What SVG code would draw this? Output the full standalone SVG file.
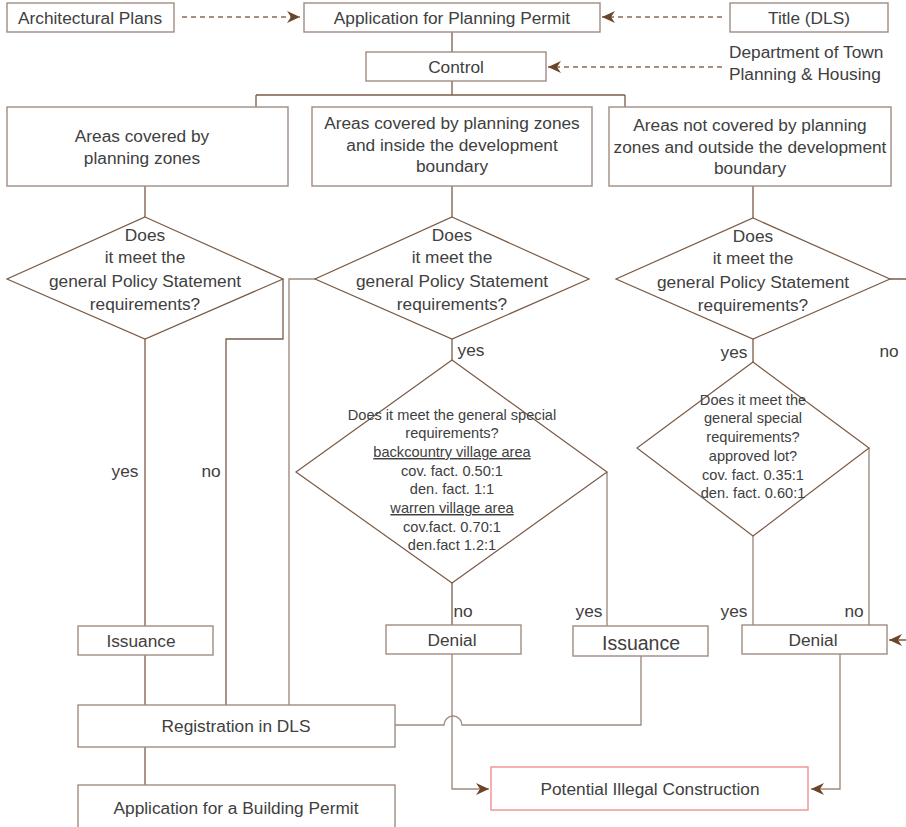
<svg xmlns="http://www.w3.org/2000/svg" width="906" height="827" viewBox="0 0 906 827">
<defs>
<marker id="ah" markerWidth="14" markerHeight="12" refX="13" refY="6" orient="auto" markerUnits="userSpaceOnUse">
<path d="M0,0 L13,6 L0,12 L4,6 z" fill="#6b4529"/>
</marker>
<style>
.box{fill:#fff;stroke:#a08c80;stroke-width:1.4}
.pink{fill:#fff;stroke:#f09090;stroke-width:1.4}
.dia{fill:#fff;stroke:#7b5a44;stroke-width:1.2}
.ln{fill:none;stroke:#7b5c48;stroke-width:1.3}
.lnl{fill:none;stroke:#a08c80;stroke-width:1.4}
.dash{fill:none;stroke:#8b6a55;stroke-width:1.4;stroke-dasharray:5,4}
text{font-family:"Liberation Sans",Arial,sans-serif;fill:#404040;text-anchor:middle}
.t{font-size:17.3px}
.s{font-size:14.6px}
.u{text-decoration:underline}
.l{text-anchor:start}
</style>
</defs>
<rect width="906" height="827" fill="#fff"/>
<g id="connectors">
<path class="dash" d="M182,17 H300" marker-end="url(#ah)"/>
<path class="dash" d="M722,17 H602" marker-end="url(#ah)"/>
<path class="dash" d="M722,67 H548" marker-end="url(#ah)"/>
<path class="ln" d="M452,32 V52"/>
<path class="ln" d="M452,81 V95 M256,95 H625 M256,95 V107 M625,95 V107"/>
<path class="ln" d="M145,186 V217 M452,186 V217 M753,186 V218"/>
<path class="ln" d="M145,339 V626"/>
<path class="ln" d="M283,279 V339 H226 V705"/>
<path class="lnl" d="M315,279 H289 V705"/>
<path class="ln" d="M145,655 V705"/>
<path class="ln" d="M145,747 V785"/>
<path class="ln" d="M452,339 V360"/>
<path class="ln" d="M452,583 V625"/>
<path class="lnl" d="M607,472 V626"/>
<path class="lnl" d="M641,656 V725 H462 A9,9 0 0 0 444,725 H395"/>
<path class="lnl" d="M452,654 V789 H489" marker-end="url(#ah)"/>
<path class="ln" d="M753,339 V362"/>
<path class="lnl" d="M753,536 V625"/>
<path class="lnl" d="M869,448 V625"/>
<path class="ln" d="M890,279 H914 V640 H889" marker-end="url(#ah)"/>
<path class="lnl" d="M840,654 V789 H811" marker-end="url(#ah)"/>
</g>
<g id="n-arch"><rect class="box" x="7" y="3" width="167" height="29"/><text class="t" x="90" y="24">Architectural Plans</text></g>
<g id="n-app"><rect class="box" x="304" y="3" width="296" height="29"/><text class="t" x="452" y="24">Application for Planning Permit</text></g>
<g id="n-title"><rect class="box" x="730" y="3" width="158" height="29"/><text class="t" x="809" y="24">Title (DLS)</text></g>
<g id="n-control"><rect class="box" x="366" y="52" width="180" height="29"/><text class="t" x="456" y="73">Control</text></g>
<g id="n-dept"><text class="t l" x="729" y="58">Department of Town</text><text class="t l" x="729" y="80">Planning &amp; Housing</text></g>
<g id="n-box1"><rect class="box" x="7" y="107" width="281" height="79"/><text class="t" x="142" y="142">Areas covered by</text><text class="t" x="142" y="164">planning zones</text></g>
<g id="n-box2"><rect class="box" x="312" y="107" width="280" height="79"/><text class="t" x="452" y="129">Areas covered by planning zones</text><text class="t" x="452" y="151">and inside the development</text><text class="t" x="452" y="172">boundary</text></g>
<g id="n-box3"><rect class="box" x="609" y="107" width="282" height="79"/><text class="t" x="750" y="131">Areas not covered by planning</text><text class="t" x="750" y="153">zones and outside the development</text><text class="t" x="750" y="174">boundary</text></g>
<g id="n-d1"><path class="dia" d="M145,217 L283,279 L145,339 L7,279 Z"/><text class="t" x="145" y="241">Does</text><text class="t" x="145" y="263">it meet the</text><text class="t" x="145" y="287">general Policy Statement</text><text class="t" x="145" y="310">requirements?</text></g>
<g id="n-d2"><path class="dia" d="M452,217 L589,279 L452,339 L315,279 Z"/><text class="t" x="452" y="241">Does</text><text class="t" x="452" y="263">it meet the</text><text class="t" x="452" y="287">general Policy Statement</text><text class="t" x="452" y="310">requirements?</text></g>
<g id="n-d3"><path class="dia" d="M753,218 L890,279 L753,339 L616,279 Z"/><text class="t" x="753" y="242">Does</text><text class="t" x="753" y="264">it meet the</text><text class="t" x="753" y="288">general Policy Statement</text><text class="t" x="753" y="311">requirements?</text></g>
<g id="n-d4"><path class="dia" d="M452,360 L607,472 L452,583 L296,472 Z"/>
<text class="s" x="452" y="420">Does it meet the general special</text>
<text class="s" x="452" y="438">requirements?</text>
<text class="s u" x="452" y="457">backcountry village area</text>
<text class="s" x="452" y="476">cov. fact. 0.50:1</text>
<text class="s" x="452" y="494">den. fact. 1:1</text>
<text class="s u" x="452" y="513">warren village area</text>
<text class="s" x="452" y="532">cov.fact. 0.70:1</text>
<text class="s" x="452" y="550">den.fact 1.2:1</text></g>
<g id="n-d5"><path class="dia" d="M753,362 L869,448 L753,536 L637,448 Z"/>
<text class="s" x="753" y="405">Does it meet the</text>
<text class="s" x="753" y="423">general special</text>
<text class="s" x="753" y="442">requirements?</text>
<text class="s" x="753" y="461">approved lot?</text>
<text class="s" x="753" y="480">cov. fact. 0.35:1</text>
<text class="s" x="753" y="498">den. fact. 0.60:1</text></g>
<g id="n-iss1"><rect class="box" x="78" y="626" width="135" height="29"/><text class="t" x="141" y="647">Issuance</text></g>
<g id="n-den2"><rect class="box" x="386" y="625" width="135" height="29"/><text class="t" x="452" y="646">Denial</text></g>
<g id="n-iss2"><rect class="box" x="573" y="626" width="135" height="30"/><text x="641" y="650" style="font-size:19.5px">Issuance</text></g>
<g id="n-den3"><rect class="box" x="742" y="625" width="145" height="29"/><text class="t" x="813" y="646">Denial</text></g>
<g id="n-reg"><rect class="box" x="78" y="705" width="317" height="42"/><text class="t" x="236" y="732">Registration in DLS</text></g>
<g id="n-build"><rect class="box" x="78" y="785" width="317" height="50"/><text class="t" x="236" y="814">Application for a Building Permit</text></g>
<g id="n-illegal"><rect class="pink" x="491" y="767" width="317" height="43"/><text class="t" x="650" y="795">Potential Illegal Construction</text></g>
<g id="labels">
<text class="t" x="125" y="477">yes</text>
<text class="t" x="211" y="477">no</text>
<text class="t" x="471" y="356">yes</text>
<text class="t" x="463" y="617">no</text>
<text class="t" x="589" y="617">yes</text>
<text class="t" x="734" y="358">yes</text>
<text class="t" x="889" y="357">no</text>
<text class="t" x="734" y="617">yes</text>
<text class="t" x="854" y="617">no</text>
</g>
</svg>
